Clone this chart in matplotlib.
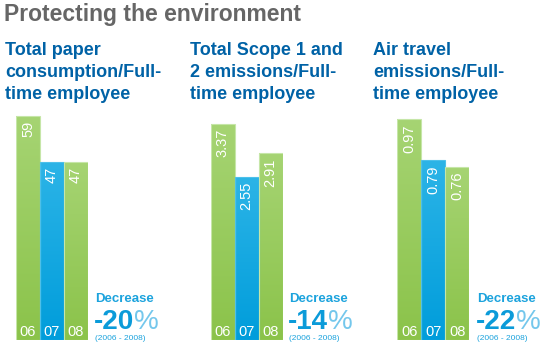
import numpy as np
import matplotlib.pyplot as plt
from matplotlib.colors import LinearSegmentedColormap

plt.rcParams['font.family'] = ['Liberation Sans', 'DejaVu Sans']

years = ["06", "07", "08"]
titles = ["Total paper\nconsumption/Full-\ntime employee",
          "Total Scope 1 and\n2 emissions/Full-\ntime employee",
          "Air travel\nemissions/Full-\ntime employee"]
values = [[59, 47, 47], [3.37, 2.55, 2.91], [0.97, 0.79, 0.76]]
labels = [["59", "47", "47"], ["3.37", "2.55", "2.91"], ["0.97", "0.79", "0.76"]]
decrease = ["-20", "-14", "-22"]
bar_kind = ["g", "b", "g"]

W, H = 551, 352
fig = plt.figure(figsize=(W / 100, H / 100), dpi=100)

green = LinearSegmentedColormap.from_list("g", ["#8bc34a", "#a6d473"])
blue = LinearSegmentedColormap.from_list("b", ["#009ddb", "#2cb4e7"])

# panel layout in pixels: (left of bars, top-of-tallest-bar px, title x, decrease x)
panels = [(16, 116, 5, 95), (210.7, 124, 190, 289), (397.3, 119.3, 373, 477)]
bar_w = 24
bottom_px = 340
top_px = 100

fig.text(4 / W, 1 - 14 / H, "Protecting the environment", fontsize=16.5,
         fontweight='bold', color='#666666', va='center', ha='left')

for i, (x0, tall_top, tx, dx) in enumerate(panels):
    fig.text(tx / W, 1 - 42 / H, titles[i], fontsize=13, fontweight='bold',
             color='#0062a6', va='top', ha='left', linespacing=1.38)

    vmax = max(values[i])
    ymax = vmax * (bottom_px - top_px) / (bottom_px - tall_top)
    ax = fig.add_axes([x0 / W, 1 - bottom_px / H, 3 * bar_w / W,
                       (bottom_px - top_px) / H])
    ax.axis('off')
    grad = np.linspace(0, 1, 256).reshape(-1, 1)
    bars = ax.bar(range(3), values[i], width=1.0, color='none',
                  edgecolor='#c6e6a8', linewidth=0.8)
    for j, b in enumerate(bars):
        cm = green if bar_kind[j] == "g" else blue
        if bar_kind[j] == "b":
            b.set_edgecolor('#4cc0ea')
        im = ax.imshow(grad, cmap=cm, origin='lower', aspect='auto',
                       extent=[j - 0.5, j + 0.5, 0, values[i][j]], zorder=1)
        im.set_clip_path(b)
        b.set_zorder(2)
        ax.text(j, values[i][j] - ymax * 0.02, labels[i][j], rotation=90,
                ha='center', va='top', color='white', fontsize=10.5, zorder=3)
        ax.text(j, ymax * 0.035, years[j], ha='center', va='center',
                color='white', fontsize=10.5, zorder=3)
    ax.set_xlim(-0.5, 2.5)
    ax.set_ylim(0, ymax)

    fig.text(dx / W, 1 - 299 / H, "Decrease", fontsize=9.5, fontweight='bold',
             color='#1ca3dd', va='center', ha='left')
    t = fig.text(dx / W - 1 / W, 1 - 322 / H, decrease[i], fontsize=20,
                 fontweight='bold', color='#0b9bd9', va='center', ha='left')
    fig.canvas.draw()
    bb = t.get_window_extent(fig.canvas.get_renderer())
    fig.text(bb.x1 / W, 1 - 322 / H, "%", fontsize=20, color='#74c7ec',
             va='center', ha='left')
    fig.text(dx / W, 1 - 338 / H, "(2006 - 2008)", fontsize=6,
             color='#1ca3dd', va='center', ha='left')

fig.savefig("out.png", dpi=100)
